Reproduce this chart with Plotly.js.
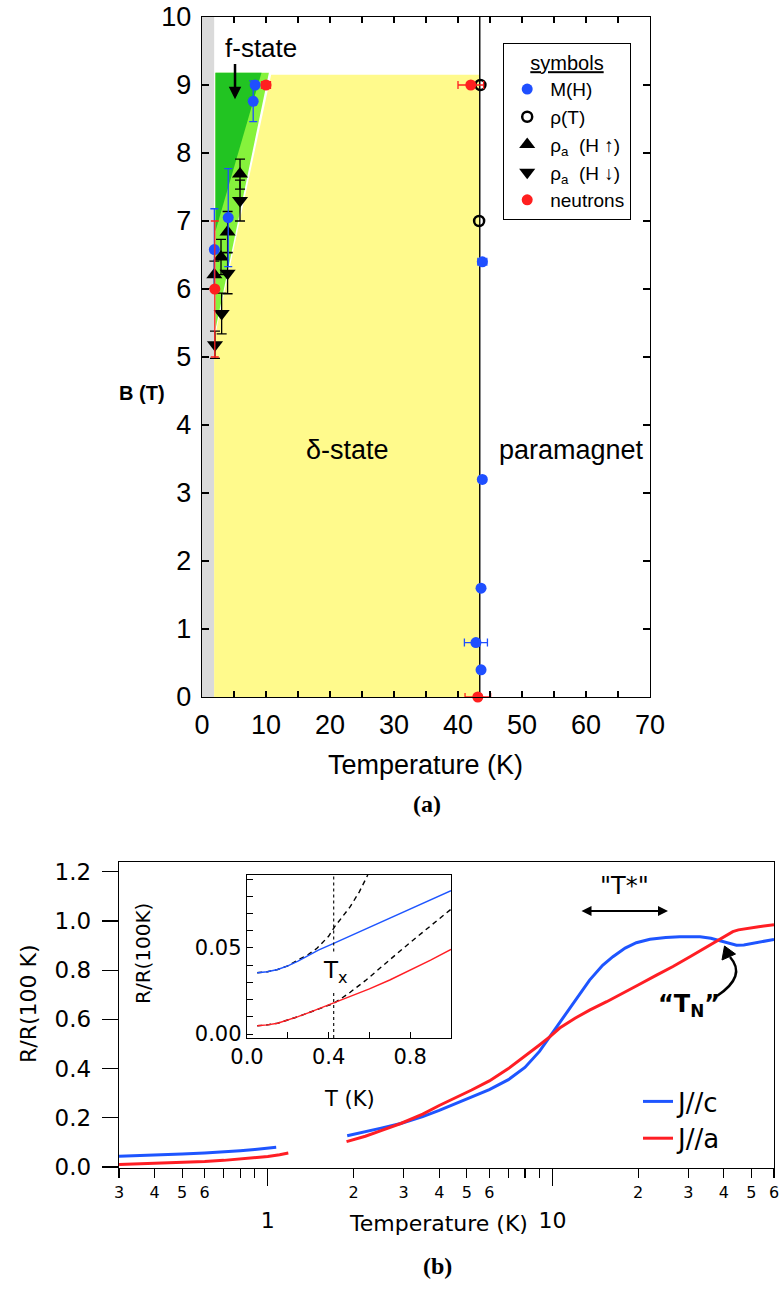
<!DOCTYPE html>
<html>
<head>
<meta charset="utf-8">
<script src="https://cdn.plot.ly/plotly-3.0.1.min.js"></script>
<style>html,body{margin:0;padding:0;background:#fff;}#plot{width:781px;height:1292px;}</style>
</head>
<body>
<div id="plot"></div>
<script>
// ---------------- Panel (a): phase diagram data ----------------
// phase regions (T in K, B in T)
const grayT = [0, 1.9, 1.9, 0];
const grayB = [0, 0, 10, 10];
const yellowT = [1.9, 1.9, 10.8, 43.4, 43.4];
const yellowB = [0, 5.25, 9.15, 9.15, 0];
const lightGreenT = [2.1, 10.45, 2.1];
const lightGreenB = [5.4, 9.18, 9.18];
const darkGreenT = [2.1, 9.3, 2.1];
const darkGreenB = [6.85, 9.18, 9.18];
const tnLineT = [43.4, 43.4];
const tnLineB = [0, 10];

// M(H) points
const mhT = [8.3, 8.0, 4.1, 1.93, 43.8, 43.8, 43.6, 42.8, 43.6];
const mhB = [9.0, 8.76, 7.05, 6.58, 6.4, 3.2, 1.6, 0.8, 0.4];
const mhErrB = [null, 0.3, 0.72, 0.6, null, null, null, null, null];
const mhErrT = [null, null, null, null, 0.7, 0.4, null, 1.8, 0.4];

// rho(T) points
const rhoT = [43.5, 43.3];
const rhoB = [9.0, 7.0];

// rho_a (H up)
const upT = [1.93, 2.97, 4.0, 5.94];
const upB = [6.21, 6.47, 6.84, 7.69];
const upErr = [0.2, 0.26, 0.3, 0.22];

// rho_a (H down)
const dnT = [2.03, 3.07, 4.0, 5.94];
const dnB = [5.18, 5.64, 6.23, 7.30];
const dnErr = [0.2, 0.3, 0.3, 0.3];

// neutrons
const neuT = [10.0, 42.0, 2.0, 43.1];
const neuB = [9.0, 9.0, 6.0, 0.0];
const neuErrT = [0.7, 2.0, null, 2.0];
const neuErrB = [null, null, 1.0, null];

const aXTickVals = [0, 5, 10, 15, 20, 25, 30, 35, 40, 45, 50, 55, 60, 65, 70];
const aXTickText = ['0', '', '10', '', '20', '', '30', '', '40', '', '50', '', '60', '', '70'];
const aYTickVals = [0, 1, 2, 3, 4, 5, 6, 7, 8, 9, 10];
const aYTickText = ['0', '1', '2', '3', '4', '5', '6', '7', '8', '9', '10'];

// ---------------- Panel (b): resistivity data ----------------
const tC1 = [0.3, 0.4, 0.5, 0.6, 0.7, 0.8, 0.9, 1.0, 1.07];
const rC1 = [0.044, 0.048, 0.053, 0.057, 0.061, 0.066, 0.071, 0.076, 0.080];
const tA1 = [0.3, 0.4, 0.5, 0.6, 0.7, 0.8, 0.9, 1.0, 1.1, 1.18];
const rA1 = [0.010, 0.014, 0.018, 0.022, 0.027, 0.032, 0.037, 0.043, 0.050, 0.057];

const tC2 = [1.9, 2.2, 2.5, 2.93, 3.5, 4, 5, 6, 7, 8, 9, 9.8, 10.6, 12, 13.5, 15, 16.3, 18, 19.7, 22, 25, 28, 30, 33, 36, 39.3, 42, 44.3, 47, 50.7, 55, 60];
const rC2 = [0.127, 0.142, 0.158, 0.177, 0.205, 0.23, 0.275, 0.315, 0.355, 0.405, 0.47, 0.53, 0.585, 0.675, 0.76, 0.82, 0.855, 0.89, 0.912, 0.926, 0.933, 0.936, 0.937, 0.936, 0.93, 0.919, 0.91, 0.902, 0.903, 0.909, 0.916, 0.925];
const tA2 = [1.89, 2.2, 2.5, 2.93, 3.5, 4, 5.2, 6, 7, 8, 9, 9.8, 10.6, 12, 13.5, 15.5, 17.7, 20, 23.2, 26.5, 30.4, 34, 38.7, 41, 43, 45, 48, 53, 60];
const rA2 = [0.103, 0.125, 0.148, 0.177, 0.215, 0.25, 0.313, 0.35, 0.40, 0.45, 0.496, 0.53, 0.565, 0.605, 0.638, 0.672, 0.706, 0.74, 0.78, 0.815, 0.855, 0.888, 0.923, 0.942, 0.957, 0.964, 0.970, 0.977, 0.985];

// inset
const tIn = [0.05, 0.1, 0.15, 0.2, 0.25, 0.3, 0.35, 0.425, 0.5, 0.6, 0.7, 0.8, 0.9, 1.0];
const inC = [0.0356, 0.0362, 0.0375, 0.0396, 0.0424, 0.0455, 0.0487, 0.0527, 0.0567, 0.0620, 0.0672, 0.0725, 0.0779, 0.0833];
const inA = [0.0048, 0.0053, 0.0063, 0.0080, 0.0101, 0.0123, 0.0146, 0.0177, 0.0212, 0.0262, 0.0314, 0.0370, 0.0429, 0.0492];
const fitCT = [0.05, 0.1, 0.15, 0.2, 0.25, 0.3, 0.343, 0.4, 0.43, 0.506, 0.55, 0.592];
const fitCR = [0.0356, 0.0362, 0.0375, 0.0396, 0.043, 0.0462, 0.0498, 0.0568, 0.0624, 0.074, 0.0825, 0.0924];
const fitAT = [0.05, 0.1, 0.15, 0.2, 0.25, 0.3, 0.35, 0.425, 0.46, 0.506, 0.58, 0.652, 0.74, 0.831, 0.92, 1.0];
const fitAR = [0.0048, 0.0053, 0.0063, 0.0080, 0.0101, 0.0123, 0.0146, 0.0178, 0.0205, 0.0243, 0.031, 0.0385, 0.0472, 0.0562, 0.0645, 0.0725];
const txT = [0.425, 0.425];
const txUpperR = [0.048, 0.0924];
const txLowerR = [-0.0023, 0.0246];

const bXMinorVals = [0.3, 0.4, 0.5, 0.6, 0.7, 0.8, 0.9, 2, 3, 4, 5, 6, 7, 8, 9, 20, 30, 40, 50, 60];
const bXMinorText = ['3', '4', '5', '6', '', '', '', '2', '3', '4', '5', '6', '', '', '', '2', '3', '4', '5', '6'];
const bXMajorVals = [1, 10];
const bXMajorText = ['1', '10'];
const bYTickVals = [0, 0.2, 0.4, 0.6, 0.8, 1.0, 1.2];
const bYTickText = ['0.0', '0.2', '0.4', '0.6', '0.8', '1.0', '1.2'];
const inXTickVals = [0, 0.2, 0.4, 0.6, 0.8, 1.0];
const inXTickText = ['0.0', '', '0.4', '', '0.8', ''];
const inYTickVals = [0, 0.01, 0.02, 0.03, 0.04, 0.05, 0.06, 0.07, 0.08, 0.09];
const inYTickText = ['0.00', '', '', '', '', '0.05', '', '', '', ''];

// ---------------- styling ----------------
const W = 781, H = 1292;
const px = v => v / W;
const py = v => 1 - v / H;
const FA = 'Liberation Sans, Arial, sans-serif';
const FB = 'DejaVu Sans, Verdana, sans-serif';
const FS = 'Liberation Serif, Times New Roman, serif';
const BLUE = '#1f4fff';
const RED = '#ff1f1f';
const LBLUE = '#1e55ff';
const LRED = '#ff1e24';

const fillTrace = (x, y, c) => ({x, y, type: 'scatter', mode: 'lines', fill: 'toself', fillcolor: c,
  line: {width: 0, color: c}, showlegend: false, hoverinfo: 'skip', xaxis: 'x', yaxis: 'y'});

const traces = [
  fillTrace(grayT, grayB, '#dadada'),
  fillTrace(yellowT, yellowB, '#fffa8c'),
  fillTrace(lightGreenT, lightGreenB, '#86f23c'),
  fillTrace(darkGreenT, darkGreenB, '#22c422'),
  {x: tnLineT, y: tnLineB, type: 'scatter', mode: 'lines', line: {color: 'black', width: 1.4},
   showlegend: false, hoverinfo: 'skip', xaxis: 'x', yaxis: 'y', cliponaxis: false},
  {x: upT, y: upB, type: 'scatter', mode: 'markers', name: 'ρ<sub>a</sub>  (H ↑)', legendrank: 3,
   marker: {symbol: 'triangle-up', size: 14, color: 'black'},
   error_y: {type: 'data', array: upErr, color: 'black', thickness: 1.3, width: 5},
   xaxis: 'x', yaxis: 'y', cliponaxis: false, legend: 'legend'},
  {x: dnT, y: dnB, type: 'scatter', mode: 'markers', name: 'ρ<sub>a</sub>  (H ↓)', legendrank: 4,
   marker: {symbol: 'triangle-down', size: 14, color: 'black'},
   error_y: {type: 'data', array: dnErr, color: 'black', thickness: 1.3, width: 5},
   xaxis: 'x', yaxis: 'y', cliponaxis: false, legend: 'legend'},
  {x: rhoT, y: rhoB, type: 'scatter', mode: 'markers', name: 'ρ(T)', legendrank: 2,
   marker: {symbol: 'circle-open', size: 10, color: 'black', line: {width: 2.5, color: 'black'}},
   xaxis: 'x', yaxis: 'y', cliponaxis: false, legend: 'legend'},
  {x: mhT, y: mhB, type: 'scatter', mode: 'markers', name: 'M(H)', legendrank: 1,
   marker: {symbol: 'circle', size: 11, color: BLUE},
   error_y: {type: 'data', array: mhErrB, color: BLUE, thickness: 1.3, width: 4},
   error_x: {type: 'data', array: mhErrT, color: BLUE, thickness: 1.3, width: 4},
   xaxis: 'x', yaxis: 'y', cliponaxis: false, legend: 'legend'},
  {x: neuT, y: neuB, type: 'scatter', mode: 'markers', name: 'neutrons', legendrank: 5,
   marker: {symbol: 'circle', size: 11, color: RED},
   error_y: {type: 'data', array: neuErrB, color: RED, thickness: 1.3, width: 4},
   error_x: {type: 'data', array: neuErrT, color: RED, thickness: 1.3, width: 4},
   xaxis: 'x', yaxis: 'y', cliponaxis: false, legend: 'legend'},

  // panel b main
  {x: tC2, y: rC2, type: 'scatter', mode: 'lines', name: 'J//c', legendgroup: 'c', legendrank: 1,
   line: {color: LBLUE, width: 3}, xaxis: 'x2', yaxis: 'y2', legend: 'legend2'},
  {x: tC1, y: rC1, type: 'scatter', mode: 'lines', name: 'J//c', legendgroup: 'c', showlegend: false,
   line: {color: LBLUE, width: 3}, xaxis: 'x2', yaxis: 'y2', legend: 'legend2'},
  {x: tA2, y: rA2, type: 'scatter', mode: 'lines', name: 'J//a', legendgroup: 'a', legendrank: 2,
   line: {color: LRED, width: 3}, xaxis: 'x2', yaxis: 'y2', legend: 'legend2'},
  {x: tA1, y: rA1, type: 'scatter', mode: 'lines', name: 'J//a', legendgroup: 'a', showlegend: false,
   line: {color: LRED, width: 3}, xaxis: 'x2', yaxis: 'y2', legend: 'legend2'},
  {x: bXMajorVals, y: [null, null], type: 'scatter', mode: 'markers', showlegend: false, hoverinfo: 'skip',
   xaxis: 'x4', yaxis: 'y2'},

  // inset
  {x: fitCT, y: fitCR, type: 'scatter', mode: 'lines', showlegend: false,
   line: {color: 'black', width: 1.4, dash: '5px,4px'}, xaxis: 'x3', yaxis: 'y3'},
  {x: fitAT, y: fitAR, type: 'scatter', mode: 'lines', showlegend: false,
   line: {color: 'black', width: 1.4, dash: '5px,4px'}, xaxis: 'x3', yaxis: 'y3'},
  {x: tIn, y: inC, type: 'scatter', mode: 'lines', showlegend: false,
   line: {color: LBLUE, width: 1.4}, xaxis: 'x3', yaxis: 'y3'},
  {x: tIn, y: inA, type: 'scatter', mode: 'lines', showlegend: false,
   line: {color: LRED, width: 1.4}, xaxis: 'x3', yaxis: 'y3'},
  {x: txT, y: txUpperR, type: 'scatter', mode: 'lines', showlegend: false,
   line: {color: 'black', width: 1.1, dash: 'dot'}, xaxis: 'x3', yaxis: 'y3'},
  {x: txT, y: txLowerR, type: 'scatter', mode: 'lines', showlegend: false,
   line: {color: 'black', width: 1.1, dash: 'dot'}, xaxis: 'x3', yaxis: 'y3'}
];

const axA = {showline: true, linecolor: 'black', linewidth: 1.3, mirror: 'ticks', ticks: 'inside',
  tickcolor: 'black', tickwidth: 1.2, showgrid: false, zeroline: false,
  tickfont: {family: FA, size: 27, color: 'black'}};

const ann = (o) => Object.assign({xref: 'paper', yref: 'paper', showarrow: false, xanchor: 'center', yanchor: 'middle'}, o);

const layout = {
  width: W, height: H, margin: {l: 0, r: 0, t: 0, b: 0},
  paper_bgcolor: 'white', plot_bgcolor: 'white', showlegend: true,
  xaxis: Object.assign({}, axA, {domain: [px(202), px(650)], range: [0, 70], anchor: 'y',
    tickmode: 'array', tickvals: aXTickVals, ticktext: aXTickText, ticklen: 6, ticklabelstandoff: 3}),
  yaxis: Object.assign({}, axA, {domain: [py(697), py(17)], range: [0, 10], anchor: 'x',
    tickmode: 'array', tickvals: aYTickVals, ticktext: aYTickText, ticklen: 7, ticklabelstandoff: 4}),
  xaxis2: {domain: [px(119), px(774)], type: 'log', range: [Math.log10(0.3), Math.log10(60)], anchor: 'y2',
    showline: true, mirror: true, linecolor: 'black', linewidth: 1.3, ticks: 'outside', ticklen: 9,
    tickwidth: 1.2, tickcolor: 'black', tickmode: 'array', tickvals: bXMinorVals, ticktext: bXMinorText,
    tickfont: {family: FB, size: 16, color: 'black'}, showgrid: false, zeroline: false, ticklabelstandoff: 0},
  xaxis4: {overlaying: 'x2', type: 'log', range: [Math.log10(0.3), Math.log10(60)], anchor: 'y2',
    showline: false, ticks: 'outside', ticklen: 17, tickwidth: 1.2, tickcolor: 'black',
    tickmode: 'array', tickvals: bXMajorVals, ticktext: bXMajorText, ticklabelstandoff: 16,
    tickfont: {family: FB, size: 22, color: 'black'}, showgrid: false, zeroline: false},
  yaxis2: {domain: [py(1168), py(862)], range: [-0.004, 1.24], anchor: 'x2',
    showline: true, mirror: true, linecolor: 'black', linewidth: 1.3, ticks: 'outside', ticklen: 16,
    tickwidth: 1.2, tickcolor: 'black', tickmode: 'array', tickvals: bYTickVals, ticktext: bYTickText,
    tickfont: {family: FB, size: 23, color: 'black'}, showgrid: false, zeroline: false, ticklabelstandoff: 6},
  xaxis3: {domain: [px(247), px(451)], range: [0, 1.0], anchor: 'y3',
    showline: true, mirror: true, linecolor: 'black', linewidth: 1.2, ticks: 'inside', ticklen: 6,
    tickwidth: 1, tickcolor: 'black', tickmode: 'array', tickvals: inXTickVals, ticktext: inXTickText,
    tickfont: {family: FB, size: 21, color: 'black'}, showgrid: false, zeroline: false},
  yaxis3: {domain: [py(1038), py(875)], range: [-0.0023, 0.0924], anchor: 'x3',
    showline: true, mirror: true, linecolor: 'black', linewidth: 1.2, ticks: 'inside', ticklen: 6,
    tickwidth: 1, tickcolor: 'black', tickmode: 'array', tickvals: inYTickVals, ticktext: inYTickText,
    tickfont: {family: FB, size: 21, color: 'black'}, showgrid: false, zeroline: false},
  legend: {x: px(503), y: py(43), xanchor: 'left', yanchor: 'top', bgcolor: 'white',
    bordercolor: 'black', borderwidth: 1.2, font: {family: FA, size: 19, color: 'black'},
    title: {text: '<u>symbols</u>', side: 'top center', font: {family: FA, size: 20, color: 'black'}},
    tracegroupgap: 0, itemclick: false, itemwidth: 36},
  legend2: {x: px(638), y: py(1078), xanchor: 'left', yanchor: 'top', bgcolor: 'rgba(0,0,0,0)',
    borderwidth: 0, font: {family: FB, size: 26, color: 'black'}, tracegroupgap: 0, itemclick: false},
  annotations: [
    ann({xref: 'x', yref: 'y', x: 9.2, y: 9.54, text: 'f-state', font: {family: FA, size: 26, color: 'black'}}),
    {xref: 'x', yref: 'y', x: 5.16, y: 8.79, axref: 'x', ayref: 'y', ax: 5.16, ay: 9.33, text: '',
     showarrow: true, arrowhead: 2, arrowsize: 1, arrowwidth: 2.5, arrowcolor: 'black'},
    ann({xref: 'x', yref: 'y', x: 22.8, y: 3.63, text: 'δ-state', font: {family: FA, size: 27, color: 'black'}}),
    ann({xref: 'x', yref: 'y', x: 57.7, y: 3.63, text: 'paramagnet', font: {family: FA, size: 27, color: 'black'}}),
    ann({x: px(142), y: py(393), text: '<b>B (T)</b>', font: {family: FA, size: 20, color: 'black'}}),
    ann({x: px(426), y: py(765), text: 'Temperature (K)', font: {family: FA, size: 27, color: 'black'}}),
    ann({x: px(427), y: py(804), text: '<b>(a)</b>', font: {family: FS, size: 24, color: 'black'}}),
    ann({x: px(28), y: py(1004), text: 'R/R(100 K)', textangle: -90, font: {family: FB, size: 22, color: 'black'}}),
    ann({x: px(438), y: py(1223), text: 'Temperature (K)', font: {family: FB, size: 22, color: 'black'}}),
    ann({x: px(437), y: py(1266), text: '<b>(b)</b>', font: {family: FS, size: 24, color: 'black'}}),
    ann({x: px(143), y: py(954), text: 'R/R(100K)', textangle: -90, font: {family: FB, size: 20, color: 'black'}}),
    ann({x: px(349), y: py(1099), text: 'T (K)', font: {family: FB, size: 21, color: 'black'}}),
    ann({xref: 'x3', yref: 'y3', x: 0.435, y: 0.036, text: 'T<sub>x</sub>', font: {family: FB, size: 23, color: 'black'}}),
    ann({x: px(624), y: py(886), text: '"T*"', font: {family: FB, size: 24, color: 'black'}}),
    {xref: 'paper', yref: 'paper', x: px(668), y: py(911), ax: -88, ay: 0, text: '', showarrow: true,
     arrowside: 'end+start', arrowhead: 2, startarrowhead: 2, arrowsize: 1, startarrowsize: 1, arrowwidth: 2, arrowcolor: 'black'},
    ann({x: px(689), y: py(1005), text: '<b>“T<sub>N</sub>”</b>', font: {family: FB, size: 24, color: 'black'}})
  ],
  shapes: [
    {type: 'path', xref: 'paper', yref: 'paper',
     path: `M ${px(717)},${py(996)} Q ${px(747)},${py(976)} ${px(730)},${py(957)}`,
     line: {color: 'black', width: 2.5}},
    {type: 'path', xref: 'paper', yref: 'paper',
     path: `M ${px(724.5)},${py(946)} L ${px(722)},${py(960)} L ${px(735.5)},${py(954)} Z`,
     fillcolor: 'black', line: {color: 'black', width: 1}}
  ]
};

Plotly.newPlot('plot', traces, layout, {staticPlot: true, displayModeBar: false});
</script>
</body>
</html>
